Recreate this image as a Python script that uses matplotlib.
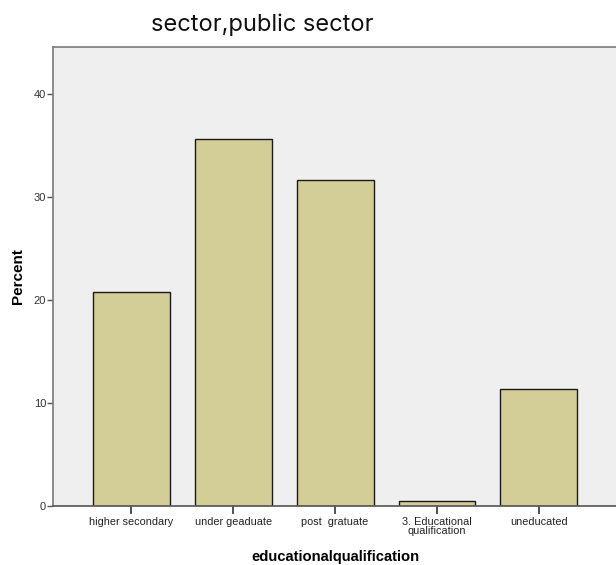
import matplotlib
matplotlib.use("Agg")
import matplotlib.pyplot as plt

categories = ["higher secondary", "under geaduate", "post  gratuate", "3. Educational\nqualification", "uneducated"]
percent = [20.8, 35.7, 31.7, 0.5, 11.4]
yticks = [0, 10, 20, 30, 40]

fig = plt.figure(figsize=(6.16, 5.65), dpi=100)
ax = fig.add_axes([53/616, 1 - 506/565, 1 - 53/616 + 0.002, (506 - 47)/565])
ax.set_facecolor("#efefef")
x = list(range(len(categories)))
ax.bar(x, percent, width=0.755, color="#d3ce97", edgecolor="#1a1a1a", linewidth=1.0, zorder=2)
ax.set_xlim(-0.77, 4.77)
ax.set_ylim(0, 44.6)
ax.set_yticks(yticks)
ax.set_yticklabels([str(t) for t in yticks], fontsize=8, family="Liberation Sans", color="#333333")
ax.set_xticks(x)
ax.set_xticklabels(categories, fontsize=7.8, family="Liberation Sans", color="#222222", linespacing=0.85)
ax.tick_params(axis="x", length=6, width=1.2, color="#333333", pad=2)
ax.tick_params(axis="y", length=4, width=1.0, color="#555555", pad=1)
for s in ["left", "top", "bottom"]:
    ax.spines[s].set_color("#7a7a7a")
    ax.spines[s].set_linewidth(1.2)
ax.spines["bottom"].set_color("#555555")
ax.spines["right"].set_visible(False)
ax.set_ylabel("Percent", fontsize=11, fontweight="bold", family="Liberation Sans", labelpad=6)
ax.set_xlabel("educationalqualification", fontsize=10.6, fontweight="bold", family="Liberation Sans", labelpad=10)
fig.text(262/616, 1 - 25/565, "sector,public sector", ha="center", va="center", fontsize=17, family="Inter", color="#111111")
fig.savefig("out.png", dpi=100)
